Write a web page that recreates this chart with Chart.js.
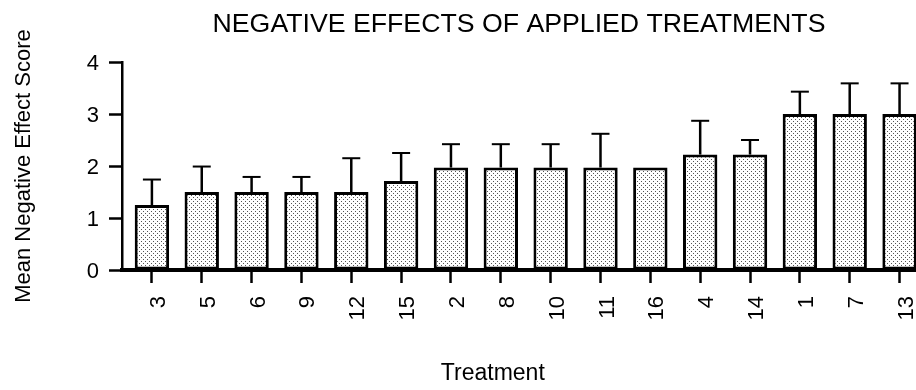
<!DOCTYPE html>
<html>
<head>
<meta charset="utf-8">
<script src="https://cdn.jsdelivr.net/npm/chart.js@4/dist/chart.umd.min.js"></script>
<style>
  html, body { margin: 0; padding: 0; background: #fff; overflow: hidden; }
</style>
</head>
<body>
<canvas id="chart" width="916" height="390"></canvas>
<script>
// ====== Data
const treatments = ["3", "5", "6", "9", "12", "15", "2", "8", "10", "11", "16", "4", "14", "1", "7", "13"];
const meanScores = [1.25, 1.5, 1.5, 1.5, 1.5, 1.71, 1.97, 1.97, 1.97, 1.97, 1.97, 2.22, 2.22, 3.0, 3.0, 3.0];
const errorUpper = [0.49, 0.49, 0.29, 0.29, 0.65, 0.54, 0.45, 0.45, 0.45, 0.65, 0, 0.65, 0.28, 0.43, 0.59, 0.59];
const yTicks = [0, 1, 2, 3, 4];

const FONT = "'Liberation Sans', Arial, sans-serif";

// ====== Stipple fill for bars
const makeStipple = () => {
  const pc = document.createElement("canvas");
  pc.width = 4; pc.height = 4;
  const p = pc.getContext("2d");
  p.fillStyle = "#fff";
  p.fillRect(0, 0, 4, 4);
  p.fillStyle = "#555";
  p.fillRect(1, 1, 1, 1);
  p.fillRect(3, 3, 1, 1);
  return p.createPattern(pc, "repeat");
};

// ====== Error bars (upper only, "T" shape)
const errorBarPlugin = {
  id: "errorBars",
  afterDatasetsDraw: (chart) => {
    const { ctx, scales } = chart;
    ctx.save();
    ctx.strokeStyle = "#000";
    ctx.lineCap = "butt";
    meanScores.forEach((m, i) => {
      const e = errorUpper[i];
      if (!e) return;
      const x = scales.x.getPixelForValue(i);
      const y0 = scales.y.getPixelForValue(m);
      const y1 = scales.y.getPixelForValue(m + e);
      ctx.lineWidth = 2.5;
      ctx.beginPath();
      ctx.moveTo(x, y0);
      ctx.lineTo(x, y1);
      ctx.stroke();
      ctx.lineWidth = 2;
      ctx.beginPath();
      ctx.moveTo(x - 9, y1);
      ctx.lineTo(x + 9, y1);
      ctx.stroke();
    });
    ctx.restore();
  },
};

// ====== x axis title (sits a bit left of the plot centre in the original)
const xTitlePlugin = {
  id: "xTitle",
  afterDraw: (chart) => {
    const { ctx, chartArea } = chart;
    ctx.save();
    ctx.fillStyle = "#000";
    ctx.font = `23px ${FONT}`;
    ctx.textAlign = "center";
    ctx.textBaseline = "alphabetic";
    const cx = chartArea.left + (chartArea.right - chartArea.left) * 0.467;
    ctx.fillText("Treatment", cx, 380);
    ctx.restore();
  },
};

const ctx = document.getElementById("chart").getContext("2d");

new Chart(ctx, {
  type: "bar",
  data: {
    datasets: [{
      data: meanScores.map((v, i) => ({ x: i, y: v })),
      backgroundColor: makeStipple(),
      borderColor: "#000",
      borderWidth: 3,
      borderSkipped: false,
      categoryPercentage: 1,
      barPercentage: 0.69,
    }],
  },
  options: {
    responsive: false,
    animation: false,
    devicePixelRatio: 1,
    layout: { padding: 0 },
    plugins: {
      legend: { display: false },
      tooltip: { enabled: false },
      title: {
        display: true,
        fullSize: false,
        text: "NEGATIVE EFFECTS OF APPLIED TREATMENTS",
        color: "#000",
        font: { family: FONT, size: 26.7, weight: "normal" },
        padding: { top: 9, bottom: 21 },
        align: "center",
      },
    },
    scales: {
      x: {
        type: "linear",
        offset: false,
        min: -0.6,
        max: 15.33,
        afterBuildTicks: (scale) => {
          scale.ticks = treatments.map((_, i) => ({ value: i }));
        },
        afterFit: (scale) => {
          scale.height = 120;
          scale.paddingLeft = 0;
          scale.paddingRight = 0;
        },
        grid: {
          display: true,
          offset: false,
          drawOnChartArea: false,
          drawTicks: true,
          tickLength: 13,
          tickWidth: 2.5,
          tickColor: "#000",
        },
        border: { display: true, color: "#000", width: 4 },
        ticks: {
          autoSkip: false,
          minRotation: 90,
          maxRotation: 90,
          padding: 13,
          labelOffset: 7,
          color: "#000",
          font: { family: FONT, size: 22 },
          callback: (v) => treatments[v] ?? "",
        },
        title: { display: false },
      },
      y: {
        min: 0,
        max: 4,
        afterBuildTicks: (scale) => {
          scale.ticks = yTicks.map(v => ({ value: v }));
        },
        afterFit: (scale) => {
          scale.width = 122;
          scale.paddingTop = 0;
          scale.paddingBottom = 0;
        },
        grid: {
          display: true,
          drawOnChartArea: false,
          drawTicks: true,
          tickLength: 13,
          tickWidth: 2.5,
          tickColor: "#000",
        },
        border: { display: true, color: "#000", width: 2.5 },
        ticks: {
          padding: 10,
          labelOffset: 2,
          color: "#000",
          font: { family: FONT, size: 22 },
        },
        title: {
          display: true,
          text: "Mean Negative Effect Score",
          color: "#000",
          font: { family: FONT, size: 22 },
          padding: { top: 11, bottom: 0 },
        },
      },
    },
  },
  plugins: [errorBarPlugin, xTitlePlugin],
});
</script>
</body>
</html>
